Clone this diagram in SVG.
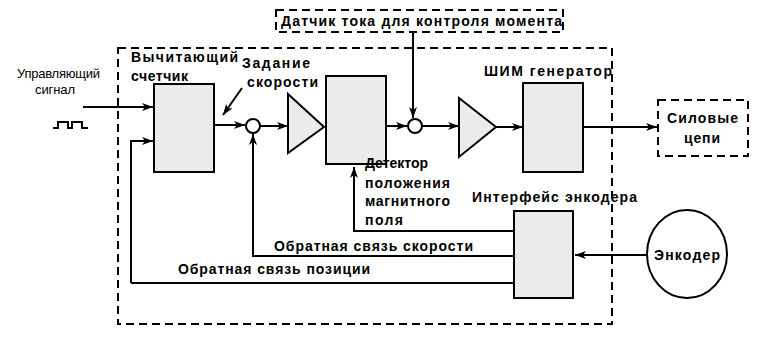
<svg xmlns="http://www.w3.org/2000/svg" width="768" height="343" viewBox="0 0 768 343">
<style>
.blk{fill:#ebebeb;stroke:#000;stroke-width:2}
.dash{fill:none;stroke:#000;stroke-width:2;stroke-dasharray:8,5}
.ln{fill:none;stroke:#000;stroke-width:2}
.t{font-family:"Liberation Sans",Arial,sans-serif;font-size:14px;font-weight:bold;fill:#000}
.r{font-family:"Liberation Sans",Arial,sans-serif;font-size:13px;fill:#000}
</style>
<defs>
<marker id="ar" markerWidth="12" markerHeight="10" refX="11" refY="4" orient="auto" markerUnits="userSpaceOnUse">
<path d="M0,0 L11,4 L0,8 L3,4 z" fill="#000"/>
</marker>
</defs>
<rect width="768" height="343" fill="#fff"/>
<g id="outer"><rect class="dash" x="118" y="48" width="494" height="276"/></g>
<g id="sensor"><rect class="dash" x="276" y="10" width="287" height="22"/>
<text class="t" x="281" y="26" textLength="281" lengthAdjust="spacing">Датчик тока для контроля момента</text></g>
<g id="power"><rect class="dash" x="658" y="100" width="90" height="56"/>
<text class="t" x="667" y="123" textLength="71" lengthAdjust="spacing">Силовые</text>
<text class="t" x="684" y="143" textLength="36" lengthAdjust="spacing">цепи</text></g>
<g id="input"><text class="r" x="17" y="78" textLength="83" lengthAdjust="spacing">Управляющий</text>
<text class="r" x="35" y="94" textLength="40" lengthAdjust="spacing">сигнал</text>
<path class="ln" d="M53,128 H58 V122 H68 V128 H72 V122 H82 V128 H88"/></g>
<g id="counter"><rect class="blk" x="154" y="84" width="60" height="88"/>
<text class="t" x="131" y="62" textLength="107" lengthAdjust="spacing">Вычитающий</text>
<text class="t" x="131" y="81" textLength="57" lengthAdjust="spacing">счетчик</text></g>
<g id="speedref"><text class="t" x="242" y="68" textLength="68" lengthAdjust="spacing">Задание</text>
<text class="t" x="247" y="87" textLength="71" lengthAdjust="spacing">скорости</text></g>
<g id="sum1"><circle cx="253" cy="126" r="7" fill="#fff" stroke="#000" stroke-width="2"/></g>
<g id="amp1"><path class="blk" d="M288,94 L324,127 L288,153 z"/></g>
<g id="block2"><rect class="blk" x="326" y="76" width="60" height="88"/></g>
<g id="sum2"><circle cx="415" cy="126" r="7" fill="#fff" stroke="#000" stroke-width="2"/></g>
<g id="amp2"><path class="blk" d="M459,98 L496,127 L459,157 z"/></g>
<g id="pwm"><rect class="blk" x="523" y="83" width="60" height="89"/>
<text class="t" x="484" y="76" textLength="128" lengthAdjust="spacing">ШИМ генератор</text></g>
<g id="detector"><text class="t" x="365" y="168" textLength="63" lengthAdjust="spacing">Детектор</text>
<text class="t" x="365" y="188" textLength="85" lengthAdjust="spacing">положения</text>
<text class="t" x="365" y="206" textLength="85" lengthAdjust="spacing">магнитного</text>
<text class="t" x="365" y="225" textLength="38" lengthAdjust="spacing">поля</text></g>
<g id="encif"><rect class="blk" x="514" y="211" width="59" height="87"/>
<text class="t" x="472" y="202" textLength="165" lengthAdjust="spacing">Интерфейс энкодера</text></g>
<g id="encoder"><ellipse cx="687" cy="254" rx="40" ry="44" fill="#fff" stroke="#000" stroke-width="2"/>
<text class="t" x="654" y="260" textLength="66" lengthAdjust="spacing">Энкодер</text></g>
<g id="connectors">
<path class="ln" d="M83,107 H153" marker-end="url(#ar)"/>
<path class="ln" d="M131,283 V141 H153" marker-end="url(#ar)"/>
<path class="ln" d="M214,125 H245" marker-end="url(#ar)"/>
<path class="ln" d="M242,88 L223,115" marker-end="url(#ar)"/>
<path class="ln" d="M260,126 H288" marker-end="url(#ar)"/>
<path class="ln" d="M386,126 H407" marker-end="url(#ar)"/>
<path class="ln" d="M413,32 V118" marker-end="url(#ar)"/>
<path class="ln" d="M422,126 H459" marker-end="url(#ar)"/>
<path class="ln" d="M496,127 H523" marker-end="url(#ar)"/>
<path class="ln" d="M583,127 H657" marker-end="url(#ar)"/>
<path class="ln" d="M647,255 H575" marker-end="url(#ar)"/>
<path class="ln" d="M514,231 H354 V167" marker-end="url(#ar)"/>
<path class="ln" d="M514,256 H253 V134" marker-end="url(#ar)"/>
<path class="ln" d="M514,283 H131"/>
</g>
<g id="labels">
<text class="t" x="274" y="251" textLength="199" lengthAdjust="spacing">Обратная связь скорости</text>
<text class="t" x="178" y="274" textLength="192" lengthAdjust="spacing">Обратная связь позиции</text>
</g>
</svg>
